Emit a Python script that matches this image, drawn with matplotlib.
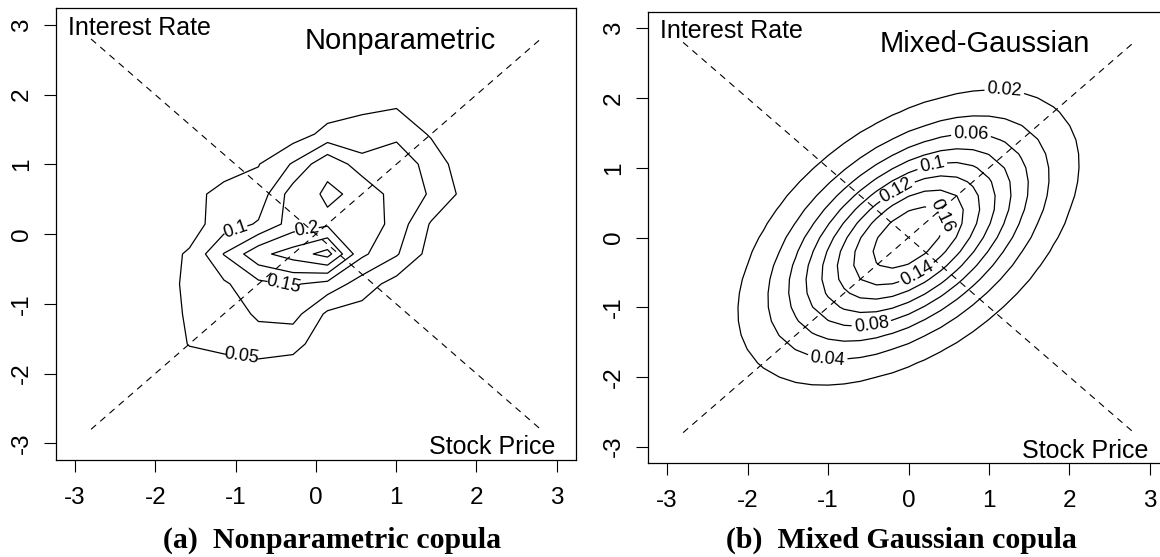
import numpy as np
import matplotlib
matplotlib.use("Agg")
import matplotlib.pyplot as plt

plt.rcParams['font.family'] = ['Liberation Sans', 'DejaVu Sans']
plt.rcParams['axes.unicode_minus'] = False

# normal-score grid of the nonparametric estimate
grid_np = [-2.435, -2.005, -1.575, -1.145, -0.715, -0.285, 0.145, 0.575, 1.005, 1.435, 1.865, 2.295]
# rows go from bottom (y=-2.435) to top (y=2.295)
density_np = [
    [0.01, 0.01, 0.015, 0.02, 0.02, 0.02, 0.015, 0.01, 0.01, 0.01, 0.01, 0.01],
    [0.01, 0.015, 0.025, 0.03, 0.03, 0.03, 0.02, 0.015, 0.01, 0.01, 0.01, 0.01],
    [0.01, 0.02, 0.052, 0.06, 0.07, 0.061, 0.03, 0.02, 0.015, 0.01, 0.01, 0.01],
    [0.01, 0.03, 0.055, 0.065, 0.11, 0.12, 0.04, 0.03, 0.02, 0.015, 0.01, 0.01],
    [0.01, 0.025, 0.06, 0.092, 0.137, 0.155, 0.133, 0.075, 0.03, 0.02, 0.01, 0.01],
    [0.01, 0.03, 0.055, 0.152, 0.236, 0.273, 0.319, 0.16, 0.105, 0.03, 0.02, 0.01],
    [0.01, 0.02, 0.03, 0.074, 0.105, 0.173, 0.191, 0.19, 0.129, 0.045, 0.025, 0.01],
    [0.01, 0.015, 0.025, 0.075, 0.07, 0.175, 0.207, 0.191, 0.125, 0.096, 0.033, 0.01],
    [0.01, 0.01, 0.01, 0.014, 0.048, 0.105, 0.19, 0.122, 0.125, 0.085, 0.015, 0.01],
    [0.01, 0.01, 0.01, 0.01, 0.015, 0.025, 0.065, 0.061, 0.091, 0.044, 0.02, 0.01],
    [0.01, 0.01, 0.01, 0.01, 0.01, 0.015, 0.023, 0.044, 0.043, 0.02, 0.01, 0.01],
    [0.01, 0.01, 0.01, 0.01, 0.01, 0.01, 0.01, 0.01, 0.01, 0.01, 0.01, 0.01],
]
levels_np = [0.05, 0.1, 0.15, 0.2, 0.25, 0.3]
labels_np = [(-0.93, -1.8), (-0.98, 0.01), (-0.41, -0.73), (-0.11, 0.05)]

# mixed gaussian copula (two components, normal-score margins)
mix_weights = [0.5, 0.5]
mix_rho = [0.6, 0.35]
mix_sigma = [1.0, 1.05]
levels_mg = [0.02, 0.04, 0.06, 0.08, 0.1, 0.12, 0.14, 0.16]
labels_mg = [(1.19, 2.02), (-1.0, -1.7), (0.78, 1.40), (-0.46, -1.25),
             (0.30, 1.0), (-0.13, 0.64), (0.14, -0.58), (0.34, 0.28)]

ticks = [-3, -2, -1, 0, 1, 2, 3]
lim = 3.24
diag = 2.8


def mixed_gaussian(x, y):
    z = np.zeros_like(x)
    for w, r, s in zip(mix_weights, mix_rho, mix_sigma):
        q = (x ** 2 - 2 * r * x * y + y ** 2) / (s ** 2 * (1 - r ** 2))
        z += w * np.exp(-q / 2) / (2 * np.pi * s ** 2 * np.sqrt(1 - r ** 2))
    return z


def fmt(v):
    return f"{round(v, 2):g}"


def setup(ax, title, title_x):
    ax.set_xlim(-lim, lim)
    ax.set_ylim(-lim, lim)
    ax.set_xticks(ticks)
    ax.set_yticks(ticks)
    ax.tick_params(length=8.5, width=0.8, labelsize=17.5, direction='out')
    ax.tick_params(axis='x', pad=11)
    ax.tick_params(axis='y', pad=8)
    for lab in ax.get_yticklabels():
        lab.set_rotation(90)
        lab.set_va('center')
    for sp in ax.spines.values():
        sp.set_linewidth(0.9)
    ax.plot([-diag, diag], [-diag, diag], color='black', lw=0.8, ls=(0, (6, 5)))
    ax.plot([-diag, diag], [diag, -diag], color='black', lw=0.8, ls=(0, (6, 5)))
    ax.text(-3.09, 2.96, "Interest Rate", fontsize=18, ha='left', va='center')
    ax.text(2.98, -3.06, "Stock Price", fontsize=18, ha='right', va='center')
    ax.text(title_x, 2.77, title, fontsize=21, ha='center', va='center')


fig = plt.figure(figsize=(11.6, 5.57), dpi=100)
ax1 = fig.add_axes([55.7 / 1160, 1 - 460 / 557, 520.3 / 1160, 451.7 / 557])
ax2 = fig.add_axes([647.7 / 1160, 1 - 463.3 / 557, 521.6 / 1160, 451.6 / 557])

gx, gy = np.meshgrid(grid_np, grid_np)
cs1 = ax1.contour(gx, gy, np.array(density_np), levels=levels_np, colors='black', linewidths=0.9)
ax1.clabel(cs1, fmt=fmt, fontsize=13, inline=True, inline_spacing=4, manual=labels_np)
setup(ax1, "Nonparametric", 1.05)

g = np.linspace(-3, 3, 31)
mx, my = np.meshgrid(g, g)
cs2 = ax2.contour(mx, my, mixed_gaussian(mx, my), levels=levels_mg, colors='black', linewidths=0.9)
ax2.clabel(cs2, fmt=fmt, fontsize=13, inline=True, inline_spacing=4, manual=labels_mg)
setup(ax2, "Mixed-Gaussian", 0.95)

fig.text(332 / 1160, 1 - 540 / 557, "(a)  Nonparametric copula", family='Liberation Serif',
         weight='bold', fontsize=21.5, ha='center', va='center')
fig.text(901 / 1160, 1 - 540 / 557, "(b)  Mixed Gaussian copula", family='Liberation Serif',
         weight='bold', fontsize=21.5, ha='center', va='center')

fig.savefig("out.png", dpi=100)
